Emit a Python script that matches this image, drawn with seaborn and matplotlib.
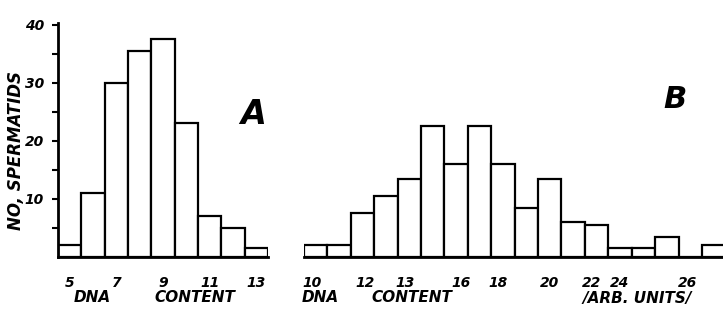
import matplotlib
matplotlib.use("Agg")
import matplotlib.pyplot as plt
import seaborn as sns

# panel A: DNA content classes and counts
dna_a = [5, 6, 7, 8, 9, 10, 11, 12, 13]
count_a = [2, 11, 30, 35.5, 37.5, 23, 7, 5, 1.5]

# panel B
dna_b = [10, 11, 12, 13, 14, 15, 16, 17, 18, 19, 20, 21, 22, 23, 24, 25, 26, 27]
count_b = [2, 2, 7.5, 10.5, 13.5, 22.5, 16, 22.5, 16, 8.5, 13.5, 6, 5.5, 1.5, 1.5, 3.5, 0, 2]

ticks_b = [9.85, 12.1, 13.8, 16.2, 17.8, 20.0, 21.8, 23.0, 25.9]
ticklabels_b = ["10", "12", "13", "16", "18", "20", "22", "24", "26"]

sns.set_style("white", {"axes.edgecolor": "black", "text.color": "black",
                        "xtick.color": "black", "ytick.color": "black",
                        "axes.labelcolor": "black"})
plt.rcParams['font.family'] = ['DejaVu Sans']
font = dict(fontweight='bold', fontstyle='italic')

W, H = 723, 332
fig = plt.figure(figsize=(W / 100, H / 100), dpi=100)

def px_axes(x0, x1, y_top, y_base):
    return fig.add_axes([x0 / W, 1 - y_base / H, (x1 - x0) / W, (y_base - y_top) / H])

ax_a = px_axes(58, 268, 23, 257)
ax_b = px_axes(304, 723, 23, 257)

for ax, x, w in [(ax_a, dna_a, count_a), (ax_b, dna_b, count_b)]:
    sns.histplot(x=x, weights=w, discrete=True, ax=ax, color='white',
                 edgecolor='black', linewidth=1.6, alpha=1)
    ax.set_ylim(0, 40.3)
    ax.set_xlabel("")
    ax.set_ylabel("")
    for s in ['top', 'right']:
        ax.spines[s].set_visible(False)
    ax.spines['bottom'].set_linewidth(2)
    ax.spines['left'].set_linewidth(2)
    ax.tick_params(axis='x', length=0, pad=14, labelsize=10, colors='black')

ax_a.set_xlim(4.5, 13.5)
ax_a.set_xticks([5, 7, 9, 11, 13])
ax_a.set_xticklabels(["5", "7", "9", "11", "13"], **font)
ax_a.set_yticks([10, 20, 30, 40])
ax_a.set_yticks([5, 15, 25, 35], minor=True)
ax_a.set_yticklabels(["10", "20", "30", "40"], **font)
ax_a.tick_params(axis='y', which='both', left=True, length=4, width=1.5,
                 direction='out', labelsize=10, pad=6, colors='black')

ax_b.set_xlim(9.5, 27.4)
ax_b.spines['left'].set_visible(False)
ax_b.set_yticks([])
ax_b.set_xticks(ticks_b)
ax_b.set_xticklabels(ticklabels_b, **font)

ax_a.text(0.93, 0.61, "A", transform=ax_a.transAxes, fontsize=24,
          ha='center', va='center', color='black', **font)
ax_b.text(0.885, 0.675, "B", transform=ax_b.transAxes, fontsize=22,
          ha='center', va='center', color='black', **font)

# y caption, hand-lettered style
fig.text(16 / W, 1 - 150 / H, "NO, SPERMATIDS", rotation=90, ha='center',
         va='center', fontsize=12, color='black', **font)

# hand-lettered axis captions
for word, xc in [("DNA", 92), ("CONTENT", 195), ("DNA", 320), ("CONTENT", 412),
                 ("/ARB. UNITS/", 637)]:
    fig.text(xc / W, 1 - 298 / H, word, ha='center', va='center',
             fontsize=11, color='black', **font)

fig.savefig("out.png", dpi=100)
